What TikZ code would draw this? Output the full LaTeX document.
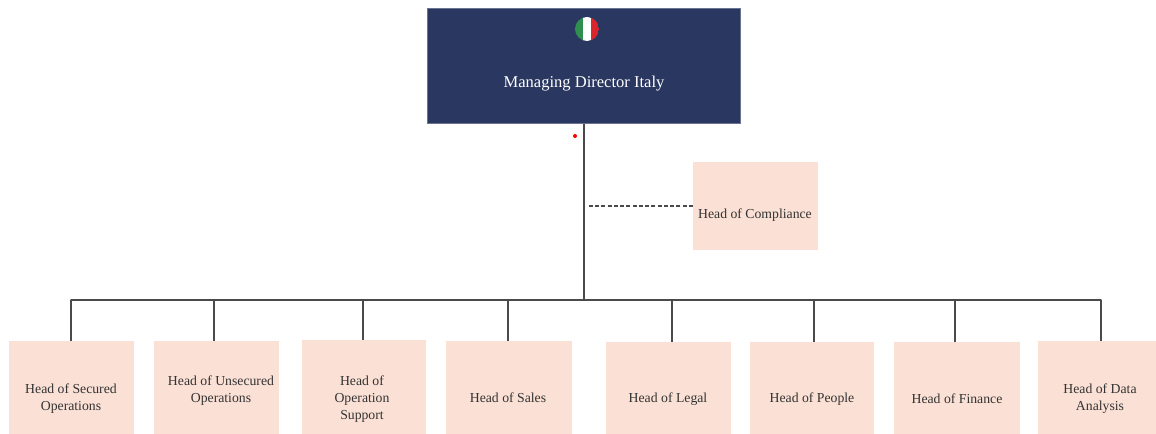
\documentclass[tikz,border=0pt]{standalone}
\usepackage{fontspec}
\setmainfont{Liberation Serif}
\definecolor{navy}{HTML}{2A3760}
\definecolor{peach}{HTML}{FBE0D5}
\definecolor{linegray}{HTML}{4A4A4A}
\definecolor{labelgray}{HTML}{333333}
\definecolor{flaggreen}{HTML}{2F8F4E}
\definecolor{flagred}{HTML}{D8262C}
\tikzset{
  x=0.75pt,y=-0.75pt,
  box/.style={fill=peach,draw=none,inner sep=0pt,anchor=north west},
  lab/.style={font=\fontsize{10.3}{12.75}\selectfont,text=labelgray,align=center,inner sep=0pt},
  wire/.style={draw=linegray,line width=1.1pt},
  dashwire/.style={draw=linegray,line width=0.9pt,dash pattern=on 3pt off 1.7pt},
}
\newcommand{\pbox}[5]{%
  \node[box,minimum width=#4*0.75pt,minimum height=#5*0.75pt] (#1) at (#2,#3) {};}
\begin{document}
\begin{tikzpicture}
\useasboundingbox (0,0) rectangle (1156,434);
\node[fill=navy,draw=navy!70!white,line width=0.5pt,inner sep=0pt,anchor=north west,minimum width=313*0.75pt,minimum height=115*0.75pt] (top) at (427,8) {};
\node[font=\fontsize{12.4}{14}\selectfont,text=white,inner sep=0pt] (toplab) at (584,83.5) {Managing Director Italy};
% flag
\begin{scope}
\clip (587,29) circle[radius=12];
\fill[flaggreen] (575,17) rectangle (583,41);
\fill[white] (583,17) rectangle (591,41);
\fill[flagred] (591,17) rectangle (599,41);
\end{scope}
\node[circle,fill=red,inner sep=0pt,minimum size=3pt] (dot) at (575,136) {};
\pbox{comp}{693}{162}{125}{88}
\node[lab] (complab) at (755,215) {Head of Compliance};
\pbox{a}{9}{341}{125}{93}
\pbox{b}{154}{341}{125}{93}
\pbox{c}{302}{340}{124}{94}
\pbox{d}{446}{341}{126}{93}
\pbox{e}{606}{342}{125}{92}
\pbox{f}{750}{342}{124}{92}
\pbox{g}{894}{342}{126}{92}
\pbox{h}{1038}{341}{118}{93}
\node[lab] (alab) at (71,398.5) {Head of Secured\\Operations};
\node[lab] (blab) at (221,391) {Head of Unsecured\\Operations};
\node[lab] (clab) at (362,399) {Head of\\Operation\\Support};
\node[lab] (dlab) at (508,398) {Head of Sales};
\node[lab] (elab) at (668,399) {Head of Legal};
\node[lab] (flab) at (812,399) {Head of People};
\node[lab] (glab) at (957,399) {Head of Finance};
\node[lab] (hlab) at (1100,398.5) {Head of Data\\Analysis};
\coordinate (hub) at (584,300);
\coordinate (dashend) at (587,206);
\coordinate (ba) at (71,300);
\coordinate (bb) at (214,300);
\coordinate (bc) at (363,300);
\coordinate (bd) at (508,300);
\coordinate (be) at (672,300);
\coordinate (bf) at (814,300);
\coordinate (bg) at (955,300);
\coordinate (bh) at (1101,300);
\draw[wire] (top.south -| hub) -- (hub);
\draw[wire,line cap=round] (ba) -- (bh);
\foreach \n in {a,b,c,d,e,f,g,h} \draw[wire] (b\n) -- (b\n |- \n.north);
\draw[dashwire] (comp.west |- dashend) -- (dashend);
\end{tikzpicture}
\end{document}
